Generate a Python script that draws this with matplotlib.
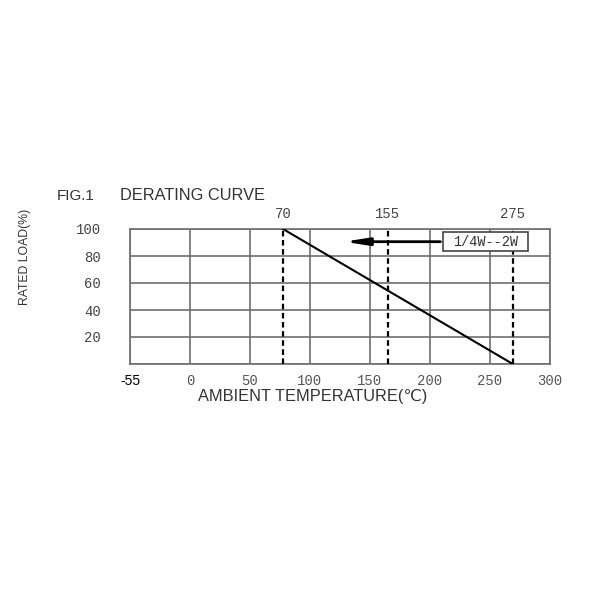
import matplotlib
matplotlib.use("Agg")
import matplotlib.pyplot as plt
from matplotlib.patches import Rectangle

# data
x_ticks = [-50, 0, 50, 100, 150, 200, 250, 300]
x_tick_labels = ["-55", "0", "50", "100", "150", "200", "250", "300"]
y_ticks = [20, 40, 60, 80, 100]
y_tick_labels = ["20", "40", "60", "80", "100"]
dashed_x = [77.5, 165, 269]
dashed_labels = ["70", "155", "275"]
curve_x = [77.5, 269]
curve_y = [100, 0]
legend_text = "1/4W--2W"

fig = plt.figure(figsize=(6, 6), dpi=100)
W, H = 600, 600
ax = fig.add_axes([130 / W, 1 - 364 / H, 420 / W, 135 / H])
ax.set_xlim(-50, 300)
ax.set_ylim(0, 100)

grid_c = "#6e6e6e"
for x in x_ticks:
    ax.axvline(x, color=grid_c, lw=1.2, zorder=1)
for y in [0] + y_ticks:
    ax.axhline(y, color=grid_c, lw=1.2, zorder=1)
for s in ax.spines.values():
    s.set_color(grid_c)
    s.set_linewidth(1.2)

for x in dashed_x:
    ax.plot([x, x], [0, 100], color="black", lw=1.6, ls=(0, (2.5, 1.6)), zorder=3)
ax.plot(curve_x, curve_y, color="black", lw=1.5, zorder=4)

mono = ["Liberation Mono", "DejaVu Sans"]
sans = ["Liberation Sans", "DejaVu Sans"]
ax.set_xticks(x_ticks)
ax.set_xticklabels(x_tick_labels, family=mono, fontsize=10, color="#555555")
ax.xaxis.get_ticklabels()[0].set_family(sans)
ax.xaxis.get_ticklabels()[0].set_color("black")
ax.set_yticks(y_ticks)
ax.set_yticklabels(y_tick_labels, family=mono, fontsize=10, color="#444444")
ax.tick_params(axis="x", length=0, pad=7)
ax.tick_params(axis="y", length=0, pad=21)

sec = ax.secondary_xaxis("top")
sec.set_xticks(dashed_x)
sec.set_xticklabels(dashed_labels, family=mono, fontsize=10, color="#444444")
sec.tick_params(length=0, pad=6)
sec.spines["top"].set_visible(False)

# arrow and label box
ax.annotate("", xy=(126, 90.6), xytext=(211, 90.6),
            arrowprops=dict(arrowstyle="-|>,head_length=1.4,head_width=0.22", color="black", lw=2),
            zorder=5)
ax.add_patch(Rectangle((210.8, 83.7), 70.9, 14.1, fc="white", ec="#444444", lw=1.2, zorder=6))
ax.text(246.2, 90.6, legend_text, family=mono, fontsize=9.8,
        color="#333333", ha="center", va="center", zorder=7)

fig.text(57 / W, 1 - 196 / H, "FIG.1", family=sans, fontsize=11,
         color="#333333", ha="left", va="center")
fig.text(120 / W, 1 - 196 / H, "DERATING CURVE", family=sans, fontsize=11.8,
         color="#333333", ha="left", va="center")
fig.text(313 / W, 1 - 397 / H, "AMBIENT TEMPERATURE(℃)", family=sans,
         fontsize=11.8, color="#333333", ha="center", va="center")
fig.text(25 / W, 1 - 257 / H, "RATED LOAD(%)", family=sans,
         fontsize=8.8, color="#333333", ha="center", va="center", rotation=90)

fig.savefig("out.png", dpi=100)
